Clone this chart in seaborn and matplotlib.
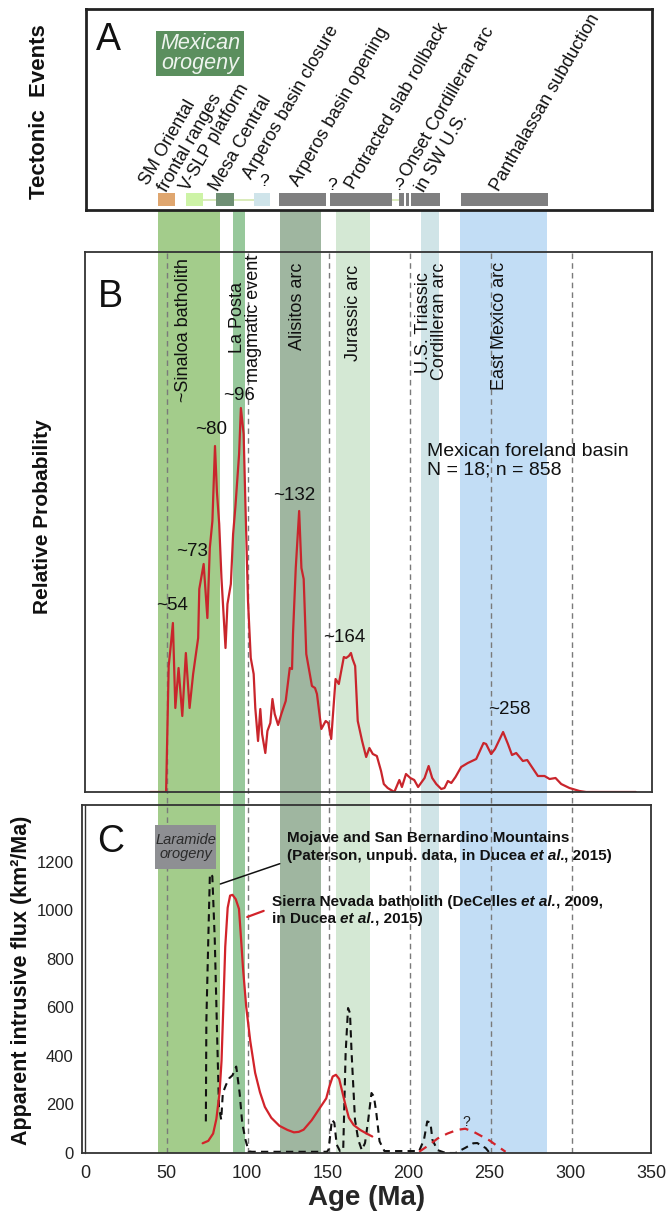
import matplotlib
matplotlib.use("Agg")
import matplotlib.pyplot as plt
from matplotlib.patches import Rectangle
from matplotlib import transforms
import seaborn as sns

# ---------------------------------------------------------------- data
# Magmatic / tectonic bands (Ma)
band_names = ["~Sinaloa batholith", "La Posta", "Alisitos arc", "Jurassic arc",
              "U.S. Triassic Cordilleran arc", "East Mexico arc"]
band_start = [45.0, 90.8, 120.3, 154.4, 207.0, 231.4]
band_end = [83.0, 98.6, 145.2, 175.5, 218.0, 284.8]
band_colors = ["#a3cc8b", "#97c89b", "#9fb6a0", "#d4e8d4", "#d0e4e7", "#c2ddf5"]

# Reference ages drawn as dashed guides (Ma)
guide_ages = [50, 100, 150, 200, 250, 300]

# Panel A: tectonic event bars (Ma)
event_start = [44.7, 61.9, 80.3, 104.0, 119.7, 151.2, 193.3, 197.7, 201.1, 231.8]
event_end = [55.2, 72.4, 91.6, 114.0, 148.6, 189.3, 196.4, 199.8, 218.7, 285.2]
event_colors = ["#dfa66f", "#cdf3a6", "#6f8f74", "#cfe4ea", "#7f7f80",
                "#7f7f80", "#7f7f80", "#7f7f80", "#7f7f80", "#7f7f80"]
link_start = [72.4, 91.6, 189.3]
link_end = [80.3, 104.0, 193.3]

# Panel B: detrital zircon relative probability, Mexican foreland basin
b_age = [40.0, 49.8, 51.4, 52.6, 54.0,
         55.5, 57.5, 59.8, 62.0, 64.3,
         66.5, 69.6, 70.3, 73.0, 75.3,
         76.8, 78.4, 80.0, 81.2, 82.6,
         84.0, 86.5, 87.7, 89.8, 91.2,
         92.6, 94.9, 96.0, 97.7, 98.8,
         100.4, 102.1, 103.9, 104.9, 106.6,
         108.0, 109.1, 111.1, 112.4, 114.2,
         115.5, 116.9, 119.0, 121.0, 123.7,
         126.2, 127.6, 128.2, 129.9, 132.0,
         133.4, 134.8, 136.4, 139.9, 141.8,
         143.0, 145.7, 148.4, 150.0, 151.8,
         154.5, 156.5, 159.6, 161.0, 162.7,
         164.0, 165.0, 166.6, 168.2, 170.9,
         173.4, 175.4, 177.5, 180.0, 182.6,
         184.3, 186.7, 190.8, 193.9, 195.5,
         198.0, 200.7, 203.1, 205.5, 209.5,
         212.0, 214.2, 216.7, 219.8, 221.8,
         223.9, 226.0, 228.6, 232.1, 236.2,
         241.4, 245.9, 247.5, 250.6, 253.0,
         258.0, 261.0, 263.5, 266.1, 270.2,
         272.9, 279.5, 283.6, 286.7, 290.4,
         293.9, 299.0, 305.2, 309.3, 340.0]
b_prob = [0.00, 0.00, 1.26, 1.45, 1.69,
          0.84, 1.24, 0.76, 1.39, 0.84,
          1.18, 1.54, 2.03, 2.28, 1.74,
          2.44, 2.71, 3.46, 3.00, 2.68,
          2.14, 1.44, 1.88, 2.08, 2.58,
          2.85, 3.38, 3.84, 3.58, 2.88,
          1.91, 1.34, 1.18, 0.84, 0.51,
          0.83, 0.58, 0.39, 0.61, 0.69,
          0.93, 0.78, 0.67, 0.78, 0.91,
          1.24, 1.23, 1.58, 2.24, 2.81,
          2.24, 2.13, 1.38, 1.06, 1.04,
          0.98, 0.63, 0.71, 0.69, 0.53,
          1.13, 1.08, 1.35, 1.34, 1.36,
          1.39, 1.33, 1.26, 0.71, 0.51,
          0.35, 0.44, 0.38, 0.36, 0.21,
          0.08, 0.04, 0.00, 0.12, 0.05,
          0.18, 0.14, 0.12, 0.05, 0.14,
          0.26, 0.14, 0.08, 0.03, 0.04,
          0.11, 0.09, 0.15, 0.25, 0.29,
          0.33, 0.49, 0.48, 0.38, 0.43,
          0.60, 0.48, 0.37, 0.39, 0.31,
          0.32, 0.16, 0.16, 0.13, 0.14,
          0.08, 0.04, 0.01, 0.00, 0.00]
peak_ages = [54, 73, 80, 96, 132, 164, 258]

# Panel C: apparent intrusive flux (km2/Ma)
sn_age = [72.5, 76, 79, 81, 83, 84.2, 85.3, 86.5, 88, 89.5,
          91, 93, 95, 96.3, 97.5, 99.5, 102, 105, 108, 111,
          115, 120, 125, 129, 132, 135, 140, 145, 149, 151,
          153, 155, 157, 159, 161, 163, 166, 170, 174, 177.5]
sn_flux = [40, 50, 80, 140, 250, 380, 600, 850, 1010, 1060,
           1063, 1045, 1005, 880, 760, 600, 460, 330, 250, 190,
           145, 112, 95, 85, 87, 96, 135, 185, 225, 275,
           315, 322, 305, 250, 195, 145, 115, 95, 80, 68]

tr_age = [206.5, 212, 218, 224, 230, 235, 240, 245, 250, 255, 260]
tr_flux = [5, 30, 60, 80, 95, 100, 88, 70, 52, 28, 5]

mj_age = [74.5, 74.8, 76, 77, 78.5, 80, 81.3, 82.6, 84, 85,
          87, 89, 91, 93.3, 95.4, 97, 99, 101, 103, 149.5,
          150.5, 152.5, 154, 155.5, 157.5, 159.5, 161, 162.5, 163.7, 164.7,
          166.8, 168.8, 171, 173, 175, 177, 178.5, 180, 182, 185,
          206.5, 209.5, 211.5, 213.5, 214.7, 217.8, 223, 229, 235, 240,
          242.5, 245, 247.6, 249.7]
mj_flux = [130, 540, 880, 1150, 1140, 880, 530, 190, 137, 247,
           281, 308, 320, 356, 247, 124, 55, 7, 5, 5,
           15, 137, 125, 34, 8, 12, 411, 597, 576, 411,
           137, 55, 12, 41, 137, 247, 233, 165, 48, 8,
           8, 55, 130, 125, 55, 12, 0, 0, 21, 40,
           41, 30, 21, 4]

age_ticks = [0, 50, 100, 150, 200, 250, 300, 350]
flux_ticks = [0, 200, 400, 600, 800, 1000, 1200]

# ---------------------------------------------------------------- style
sns.set_style("white")
plt.rcParams["font.family"] = ["Liberation Sans", "DejaVu Sans"]
plt.rcParams["axes.linewidth"] = 1.3
plt.rcParams["axes.edgecolor"] = "#333333"

W, H = 668, 1214
fig = plt.figure(figsize=(W / 100, H / 100), dpi=100)
fig.patch.set_facecolor("white")

X0, SCALE = 85.5, 1.62          # pixel of 0 Ma, pixels per Ma


def fx(px):
    return px / W


def fy(py):
    return 1 - py / H


def add_panel(l, t, r, b, **kw):
    ax = fig.add_axes([l / W, 1 - b / H, (r - l) / W, (b - t) / H], **kw)
    ax.set_xlim((l - X0) / SCALE, (r - X0) / SCALE)
    return ax


RED = "#c9252c"
GUIDE = "#7a7a7a"

# ---------------------------------------------------------------- shared bands
bg = add_panel(82, 210, 652, 1153)
bg.set_ylim(0, 1)
bg.axis("off")
for s, e, c in zip(band_start, band_end, band_colors):
    bg.axvspan(s, e, color=c, lw=0, zorder=0)
guide_top = (1153 - 252) / (1153 - 210)
for a in guide_ages:
    bg.axvline(a, ymin=0, ymax=guide_top, color=GUIDE, lw=1.0,
               dashes=(4, 3), zorder=1)

# ---------------------------------------------------------------- panel A
axA = add_panel(86, 9, 652, 210)
axA.set_zorder(2)
axA.set_facecolor("white")
axA.set_ylim(0, 1)
axA.set_xticks([])
axA.set_yticks([])
for sp in axA.spines.values():
    sp.set_linewidth(2.0)
    sp.set_color("#222222")

for s, e in zip(link_start, link_end):
    axA.plot([s, e], [0.05, 0.05], color="#d3e8ae", lw=1.2, zorder=1)
axA.barh(y=[0.05] * len(event_start),
         width=[e - s for s, e in zip(event_start, event_end)],
         left=event_start, height=0.065, color=event_colors, lw=0, zorder=2)

event_labels = [
    ("SM Oriental", 38.6, 0.119), ("frontal ranges", 50.1, 0.085),
    ("V-SLP platform", 63.3, 0.09), ("Mesa Central", 81.6, 0.09),
    ("Arperos basin closure", 102.7, 0.15), ("Arperos basin opening", 131.5, 0.114),
    ("Protracted slab rollback", 165.7, 0.10), ("Onset Cordilleran arc", 199.8, 0.16),
    ("in SW U.S.", 209.0, 0.085), ("Panthalassan subduction", 255.0, 0.09),
]
for txt, x, y in event_labels:
    axA.text(x, y, txt, rotation=60, rotation_mode="anchor", ha="left",
             va="baseline", fontsize=13, color="#111111")
for x, y in [(110.2, 0.14), (152.2, 0.12), (193.5, 0.12)]:
    axA.text(x, y, "?", ha="center", va="center", fontsize=12.5, color="#111111")

fig.add_artist(Rectangle((fx(156), fy(76)), 88 / W, 45 / H,
                         transform=fig.transFigure, facecolor="#5b8f5e",
                         edgecolor="none", zorder=5))
fig.text(fx(200), fy(53.5), "Mexican\norogeny", ha="center", va="center",
         fontsize=15.5, fontstyle="italic", color="#eef4ee", linespacing=0.88,
         zorder=6)

# ---------------------------------------------------------------- panel B
axB = add_panel(85, 252, 652, 792)
axB.set_zorder(2)
axB.set_facecolor("none")
axB.set_ylim(0, 5.4)
sns.lineplot(x=b_age, y=b_prob, ax=axB, color=RED, lw=1.6, sort=False,
             estimator=None, legend=False)
axB.set_xticks(age_ticks)
axB.set_yticks([])
axB.tick_params(axis="x", direction="out", length=4, width=1.1,
                labelbottom=False, color="#333333")
axB.set_xlabel("")
axB.set_ylabel("")

peak_label_pos = [(53.4, 1.86), (65.7, 2.40), (77.5, 3.62), (94.8, 3.96),
                  (128.7, 2.96), (159.9, 1.54), (262.0, 0.82)]
for age, (x, y) in zip(peak_ages, peak_label_pos):
    axB.text(x, y, f"~{age}", ha="center", va="center", fontsize=13.5,
             color="#111111")
axB.text(210.8, 3.49, "Mexican foreland basin\nN = 18; n = 858", ha="left",
         va="top", fontsize=14, color="#111111", linespacing=1.15)

band_label_px = [
    ("~Sinaloa batholith", 183, 258), ("La Posta", 238, 282),
    ("magmatic event", 253, 255), ("Alisitos arc", 298, 263),
    ("Jurassic arc", 353, 265), ("U.S. Triassic", 423, 272),
    ("Cordilleran arc", 440, 263), ("East Mexico arc", 500, 262),
]
for txt, x, y in band_label_px:
    fig.text(fx(x), fy(y), txt, rotation=90, ha="center", va="top",
             fontsize=13, color="#111111", zorder=6)

# ---------------------------------------------------------------- panel C
axC = add_panel(82, 805, 651, 1153)
axC.set_zorder(2)
axC.set_facecolor("none")
axC.set_ylim(0, 1433)
sns.lineplot(x=mj_age, y=mj_flux, ax=axC, color="#111111", lw=1.5,
             linestyle=(0, (3.5, 2.5)), sort=False, estimator=None, legend=False)
sns.lineplot(x=sn_age, y=sn_flux, ax=axC, color="#d2232a", lw=1.6,
             sort=False, estimator=None, legend=False)
sns.lineplot(x=tr_age, y=tr_flux, ax=axC, color="#d2232a", lw=1.6,
             linestyle=(0, (4, 3)), sort=False, estimator=None, legend=False)
axC.text(235.5, 128, "?", ha="center", va="center", fontsize=10, color="#222222")

axC.set_xticks(age_ticks)
axC.set_yticks(flux_ticks)
axC.tick_params(axis="x", direction="out", length=5, width=1.1, labelsize=13,
                pad=4, color="#333333", labelcolor="#222222")
axC.tick_params(axis="y", direction="inout", length=6, width=1.1, labelsize=12,
                pad=3, color="#333333", labelcolor="#222222")
axC.set_xlabel("Age (Ma)", fontsize=20, fontweight="bold", labelpad=2)
axC.set_ylabel("")
# inner frame line along the flux axis
inner = transforms.offset_copy(axC.transAxes, fig=fig, x=2.5, y=0, units="dots")
axC.plot([0, 0], [0, 1], transform=inner, color="#333333", lw=1.0, clip_on=False)

fig.add_artist(Rectangle((fx(155), fy(869)), 61 / W, 44 / H,
                         transform=fig.transFigure, facecolor="#8e8f93",
                         edgecolor="none", zorder=5))
fig.text(fx(185.5), fy(847), "Laramide\norogeny", ha="center", va="center",
         fontsize=10.5, fontstyle="italic", color="#2a2a2a", linespacing=1.0,
         zorder=6)

axC.annotate("", xy=(81.8, 1104), xytext=(121.9, 1195),
             arrowprops=dict(arrowstyle="-", color="#111111", lw=1.1))
axC.annotate("", xy=(98.5, 968), xytext=(111.9, 1001),
             arrowprops=dict(arrowstyle="-", color="#d2232a", lw=1.6))

renderer = fig.canvas.get_renderer()


def text_width(s, **kw):
    t = fig.text(0, 0, s, **kw)
    w = t.get_window_extent(renderer).width
    t.remove()
    return w


def rich_line(x_px, y_px, pieces, size=11):
    base = dict(fontsize=size, fontweight="bold", color="#111111")
    space = text_width("a a", **base) - text_width("aa", **base)
    cur = x_px
    for s, italic in pieces:
        if s == " ":
            cur += space
            continue
        kw = dict(base, fontstyle="italic" if italic else "normal")
        fig.text(fx(cur), fy(y_px), s, ha="left", va="baseline", zorder=6, **kw)
        cur += text_width(s, **kw)


rich_line(286.7, 842, [("Mojave and San Bernardino Mountains", False)])
rich_line(286.7, 860, [("(Paterson, unpub. data, in Ducea", False), (" ", False),
                       ("et al.", True), (", 2015)", False)])
rich_line(271.7, 906, [("Sierra Nevada batholith (DeCelles", False), (" ", False),
                       ("et al.", True), (", 2009,", False)])
rich_line(271.7, 923, [("in Ducea", False), (" ", False), ("et al.", True),
                       (", 2015)", False)])

# ---------------------------------------------------------------- side titles
fig.text(fx(40), fy(112), "Tectonic  Events", rotation=90, ha="center",
         va="center", fontsize=16, fontweight="bold", color="#111111")
fig.text(fx(43), fy(517), "Relative Probability", rotation=90, ha="center",
         va="center", fontsize=15, fontweight="bold", color="#111111")
fig.text(fx(22), fy(980), "Apparent intrusive flux (km²/Ma)", rotation=90,
         ha="center", va="center", fontsize=15.5, fontweight="bold",
         color="#111111")
for letter, x, y in [("A", 96, 50), ("B", 98, 307), ("C", 97, 852)]:
    fig.text(fx(x), fy(y), letter, ha="left", va="baseline", fontsize=27,
             color="#111111", zorder=6)

fig.savefig("out.png", dpi=100, facecolor="white")
